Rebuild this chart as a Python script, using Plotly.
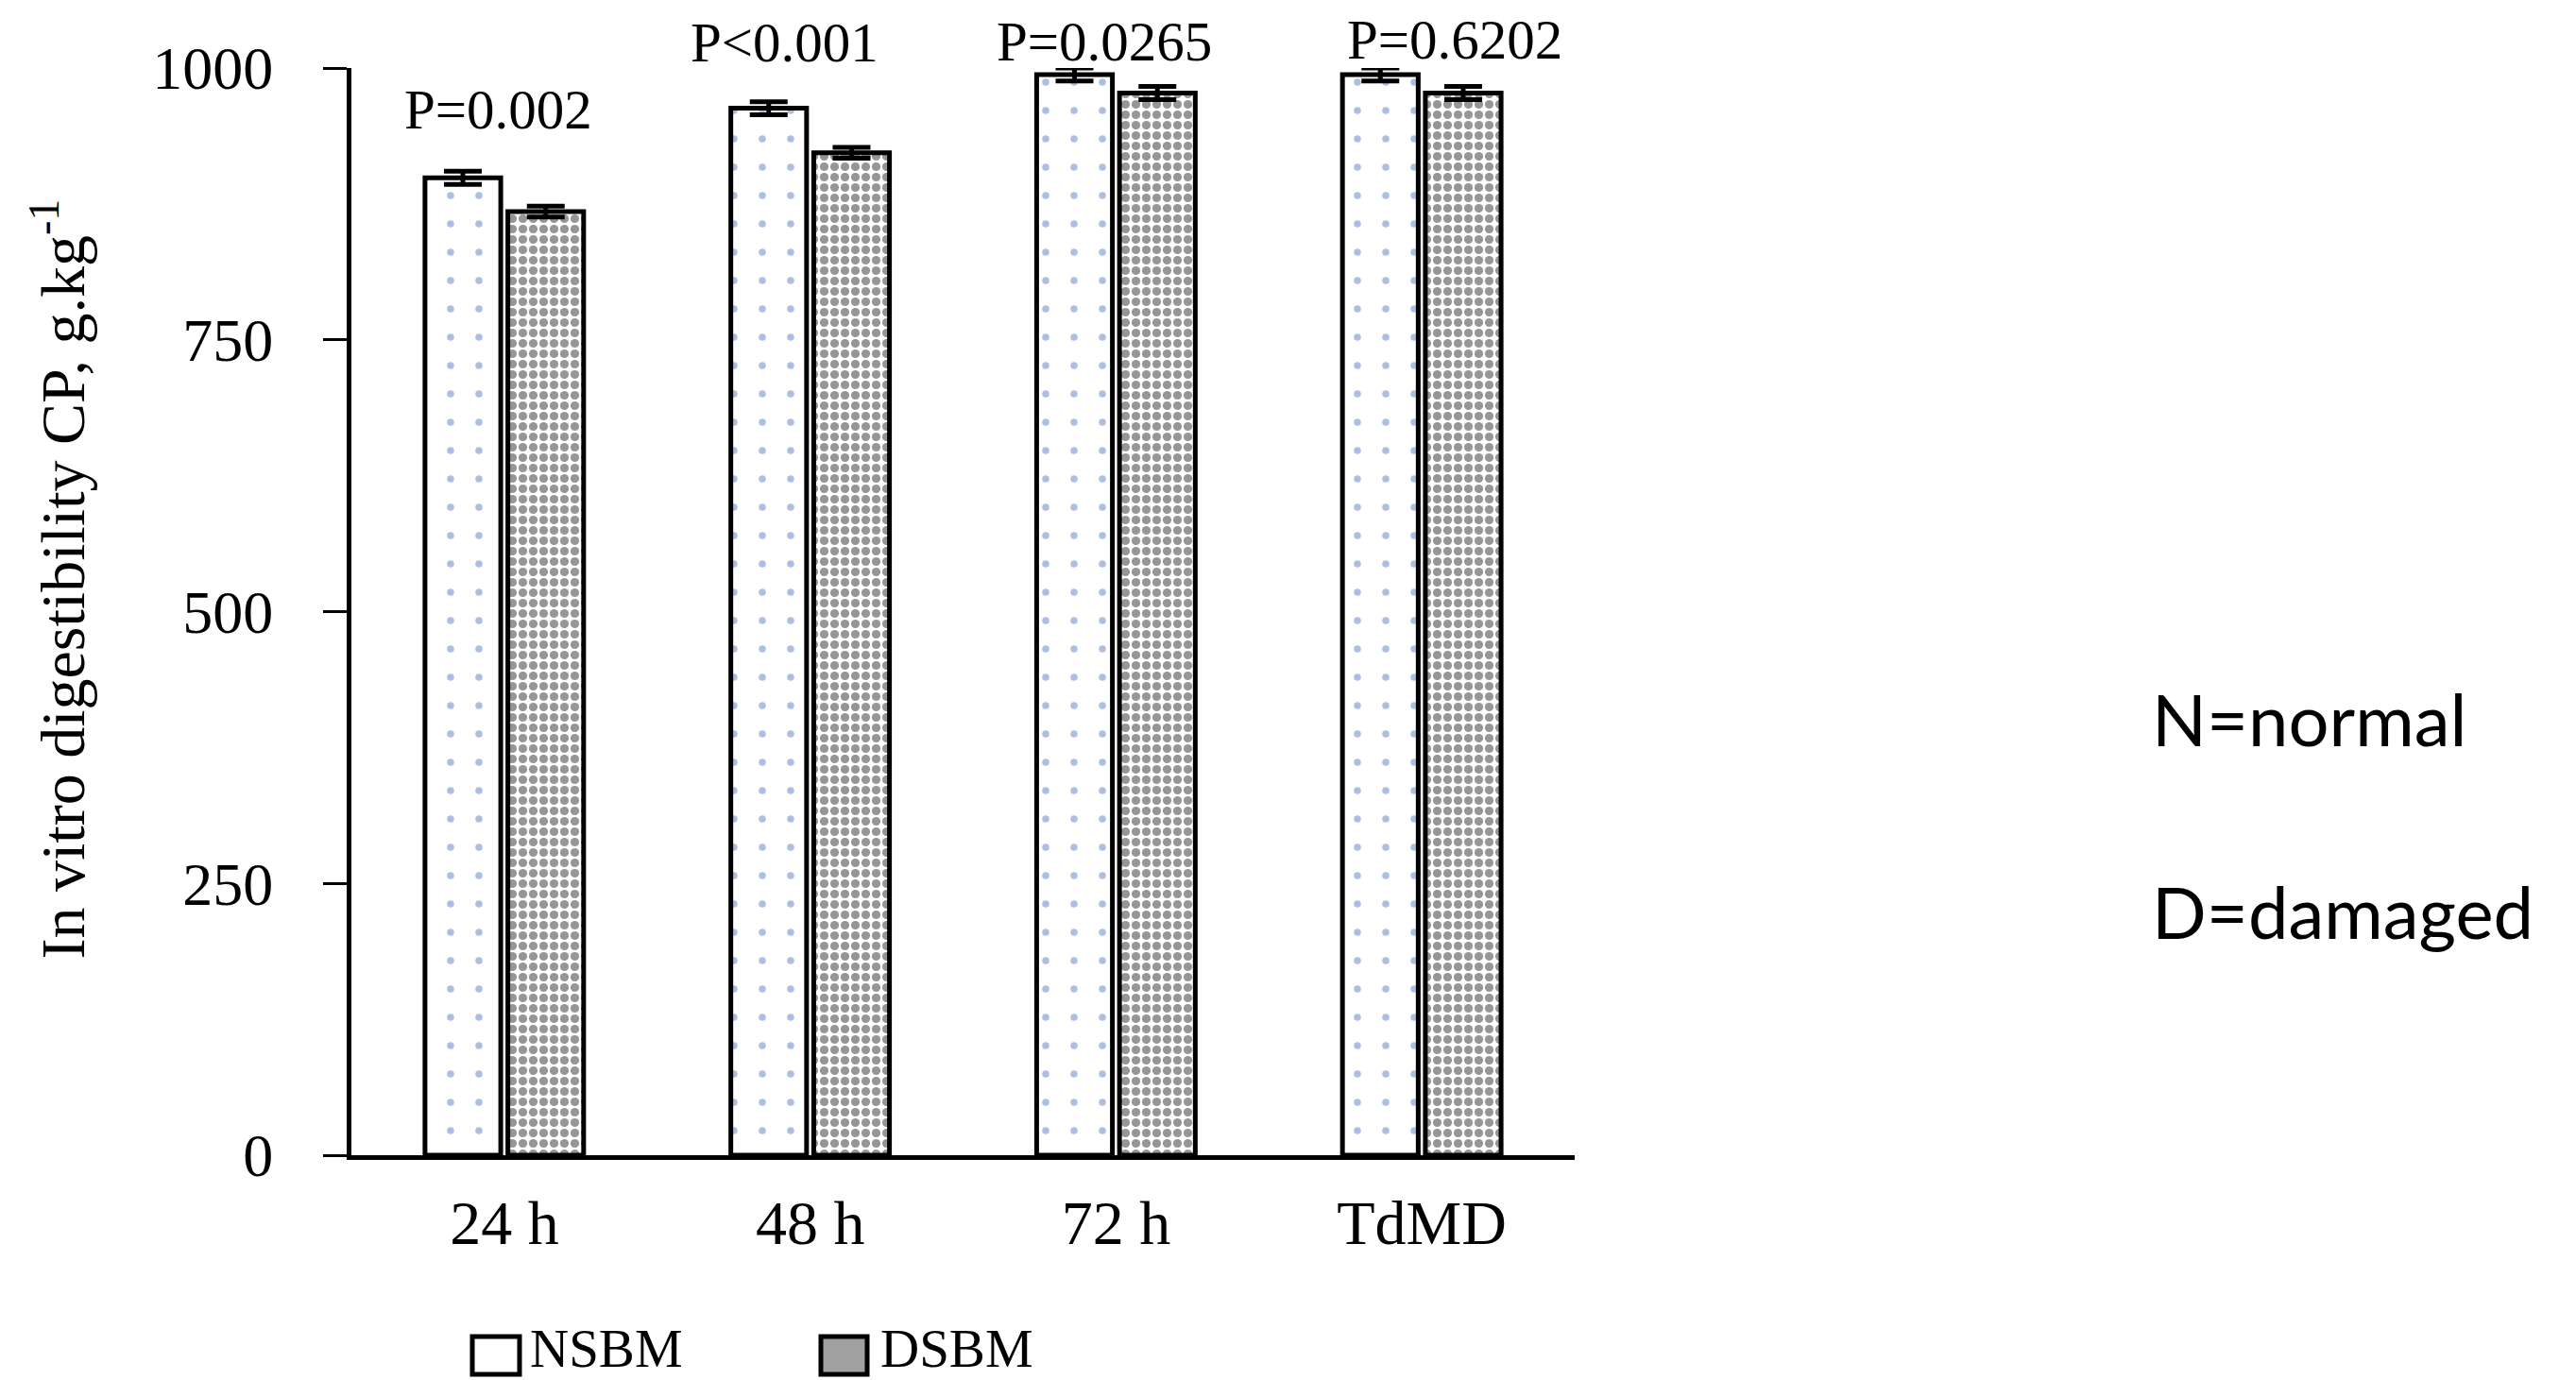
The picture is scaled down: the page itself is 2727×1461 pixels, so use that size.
import plotly.graph_objects as go

categories = ["24 h", "48 h", "72 h", "TdMD"]
series_names = ["NSBM", "DSBM"]
nsbm_values = [899, 963, 994, 994]
dsbm_values = [868, 922, 977, 977]
nsbm_err = [6, 6, 6, 6]
dsbm_err = [5, 5, 6, 6]
p_labels = ["P=0.002", "P<0.001", "P=0.0265", "P=0.6202"]
p_x = [-0.02, 0.916, 1.963, 3.108]
p_y_paper = [0.962, 1.0235, 1.0243, 1.0261]
y_ticks = [0, 250, 500, 750, 1000]

SERIF = "Liberation Serif, Times New Roman, serif"

# page offset: the browser body has an 8px margin
OFF = 8
W, H = 2727, 1461
L, R, T, B = 372 - OFF, 1060 + OFF, 72 - OFF, 238 + OFF
pw, ph = W - L - R, H - T - B

def px_x(p):
    """page pixel x -> paper x"""
    return (p - OFF - L) / pw

def px_y(p):
    """page pixel y -> paper y"""
    return (H - B - (p - OFF)) / ph

fig = go.Figure()
fig.add_trace(go.Bar(
    name=series_names[0], x=categories, y=nsbm_values, showlegend=False,
    marker=dict(color="white", line=dict(color="black", width=5),
                pattern=dict(shape=".", fgcolor="#5b7fc4", bgcolor="white",
                             size=30, solidity=0.05, fillmode="overlay")),
    error_y=dict(type="data", array=nsbm_err, visible=True,
                 color="black", thickness=5, width=20),
))
fig.add_trace(go.Bar(
    name=series_names[1], x=categories, y=dsbm_values, showlegend=False,
    marker=dict(color="white", line=dict(color="black", width=5),
                pattern=dict(shape=".", fgcolor="#2e2e2e", bgcolor="white",
                             size=11, solidity=0.55, fillmode="overlay")),
    error_y=dict(type="data", array=dsbm_err, visible=True,
                 color="black", thickness=5, width=20),
))

annotations = []
for lab, x, y in zip(p_labels, p_x, p_y_paper):
    annotations.append(dict(x=x, y=y, xref="x", yref="paper", text=lab,
                            showarrow=False, xanchor="center", yanchor="middle",
                            borderpad=0,
                            font=dict(family=SERIF, size=59, color="black")))

annotations.append(dict(x=-0.239, y=0.530, xref="paper", yref="paper",
                        text="In vitro digestibility CP, g.kg<sup>-1</sup>",
                        textangle=-90, showarrow=False,
                        xanchor="center", yanchor="middle",
                        font=dict(family=SERIF, size=66, color="black")))

annotations.append(dict(x=1.470, y=0.4014, xref="paper", yref="paper",
                        text="N=normal", showarrow=False,
                        xanchor="left", yanchor="middle",
                        font=dict(family="Lato", size=76, color="black")))
annotations.append(dict(x=1.470, y=0.2242, xref="paper", yref="paper",
                        text="D=damaged", showarrow=False,
                        xanchor="left", yanchor="middle",
                        font=dict(family="Lato", size=76, color="black")))

# legend drawn below the axis, like the reference
legend_boxes = [(500, 550), (869, 918)]
legend_text_x = [560, 931]
legend_fill = ["white", "#a0a0a0"]
shapes = []
for (x0, x1), fill in zip(legend_boxes, legend_fill):
    shapes.append(dict(type="rect", xref="paper", yref="paper",
                       x0=px_x(x0), x1=px_x(x1), y0=px_y(1455), y1=px_y(1415),
                       fillcolor=fill, line=dict(color="black", width=5)))
for name, tx in zip(series_names, legend_text_x):
    annotations.append(dict(x=px_x(tx), y=px_y(1460), xref="paper", yref="paper",
                            text=name, showarrow=False, xanchor="left", yanchor="bottom",
                            borderpad=0,
                            font=dict(family=SERIF, size=57, color="black")))

fig.update_layout(
    width=W, height=H,
    margin=dict(l=L, r=R, t=T, b=B, autoexpand=False),
    paper_bgcolor="white", plot_bgcolor="white",
    barmode="group", bargap=0.458, bargroupgap=0.086,
    showlegend=False,
    annotations=annotations,
    shapes=shapes,
    xaxis=dict(type="category", range=[-0.5, 3.5], showline=True, linecolor="black",
               linewidth=5, ticks="", showgrid=False, zeroline=False,
               tickfont=dict(family=SERIF, size=66, color="black"),
               ticklabelstandoff=10),
    yaxis=dict(range=[0, 1000], tickvals=y_ticks, showline=True, linecolor="black",
               linewidth=5, ticks="outside", ticklen=25, tickwidth=3, tickcolor="black",
               showgrid=False, zeroline=False,
               tickfont=dict(family=SERIF, size=64, color="black"),
               ticklabelstandoff=40),
)

fig.write_html("out.html")
